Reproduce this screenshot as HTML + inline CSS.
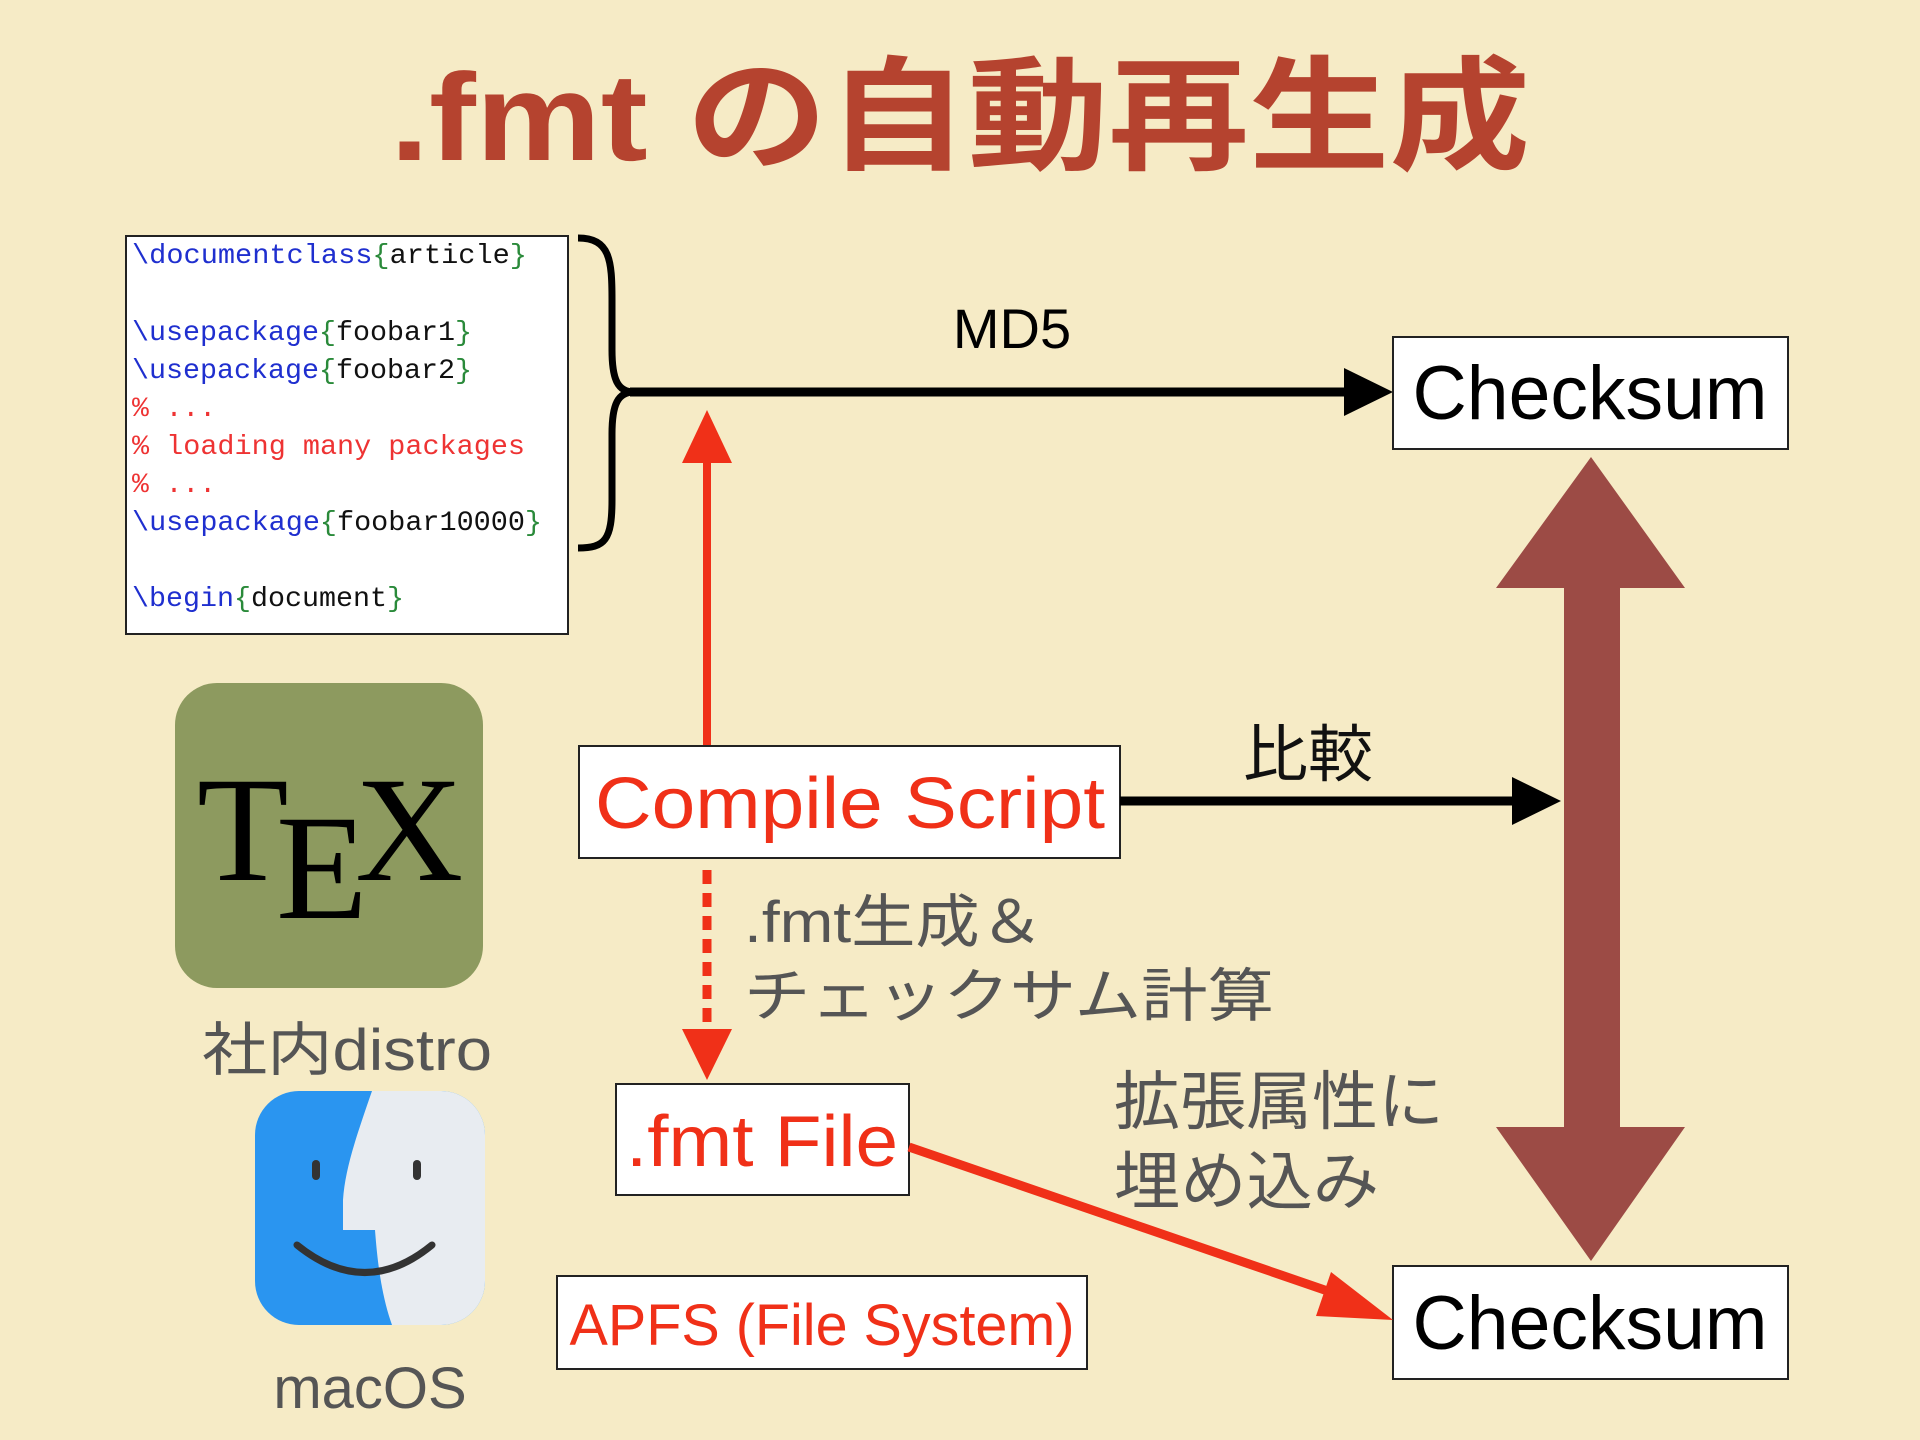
<!DOCTYPE html>
<html><head><meta charset="utf-8"><style>
html,body{margin:0;padding:0;background:#f6ebc6;}
svg{display:block}
.g{font-family:"Liberation Sans","Noto Sans CJK JP",sans-serif;}
.m{font-family:"Liberation Mono",monospace;font-size:28px;}
</style></head><body>
<svg width="1920" height="1440" viewBox="0 0 1920 1440" xmlns="http://www.w3.org/2000/svg">
<rect width="1920" height="1440" fill="#f6ebc6"/>
<text x="960" y="160" text-anchor="middle" class="g" font-size="124" font-weight="bold" fill="#b5432f" textLength="1140" lengthAdjust="spacingAndGlyphs">.fmt の自動再生成</text>

<rect x="126" y="236" width="442" height="398" fill="#fff" stroke="#222" stroke-width="2"/>
<g class="m">
<text x="132" y="263" textLength="395" lengthAdjust="spacingAndGlyphs"><tspan fill="#1f2fcf">\documentclass</tspan><tspan fill="#2a8a3a">{</tspan><tspan fill="#111">article</tspan><tspan fill="#2a8a3a">}</tspan></text>
<text x="132" y="340" textLength="340" lengthAdjust="spacingAndGlyphs"><tspan fill="#1f2fcf">\usepackage</tspan><tspan fill="#2a8a3a">{</tspan><tspan fill="#111">foobar1</tspan><tspan fill="#2a8a3a">}</tspan></text>
<text x="132" y="378" textLength="340" lengthAdjust="spacingAndGlyphs"><tspan fill="#1f2fcf">\usepackage</tspan><tspan fill="#2a8a3a">{</tspan><tspan fill="#111">foobar2</tspan><tspan fill="#2a8a3a">}</tspan></text>
<text x="132" y="416" fill="#e33">% ...</text>
<text x="132" y="454" fill="#e33" textLength="393" lengthAdjust="spacingAndGlyphs">% loading many packages</text>
<text x="132" y="492" fill="#e33">% ...</text>
<text x="132" y="530" textLength="410" lengthAdjust="spacingAndGlyphs"><tspan fill="#1f2fcf">\usepackage</tspan><tspan fill="#2a8a3a">{</tspan><tspan fill="#111">foobar10000</tspan><tspan fill="#2a8a3a">}</tspan></text>
<text x="132" y="606" textLength="272" lengthAdjust="spacingAndGlyphs"><tspan fill="#1f2fcf">\begin</tspan><tspan fill="#2a8a3a">{</tspan><tspan fill="#111">document</tspan><tspan fill="#2a8a3a">}</tspan></text>
</g>
<path d="M578 238 C610 238 612 260 612 300 L612 350 C612 380 618 392 634 392 C618 392 612 404 612 434 L612 500 C612 540 605 548 578 548" fill="none" stroke="#000" stroke-width="7"/>

<text x="1012" y="348" text-anchor="middle" class="g" font-size="56" fill="#000">MD5</text>
<line x1="630" y1="392" x2="1348" y2="392" stroke="#000" stroke-width="9"/>
<polygon points="1344,368 1393,392 1344,416" fill="#000"/>
<rect x="1393" y="337" width="395" height="112" fill="#fff" stroke="#222" stroke-width="2"/>
<text x="1590" y="419" text-anchor="middle" class="g" font-size="76" fill="#000" textLength="355" lengthAdjust="spacingAndGlyphs">Checksum</text>
<rect x="1393" y="1266" width="395" height="113" fill="#fff" stroke="#222" stroke-width="2"/>
<text x="1590" y="1349" text-anchor="middle" class="g" font-size="76" fill="#000" textLength="355" lengthAdjust="spacingAndGlyphs">Checksum</text>

<polygon points="1591,457 1685,588 1620,588 1620,1127 1685,1127 1591,1261 1496,1127 1564,1127 1564,588 1496,588" fill="#9c4b45"/>

<line x1="707" y1="746" x2="707" y2="455" stroke="#f03018" stroke-width="8"/>
<polygon points="682,463 707,410 732,463" fill="#f03018"/>

<rect x="579" y="746" width="541" height="112" fill="#fff" stroke="#222" stroke-width="2"/>
<text x="850" y="828" text-anchor="middle" class="g" font-size="72" fill="#f03018" textLength="510" lengthAdjust="spacingAndGlyphs">Compile Script</text>

<text x="1308" y="776" text-anchor="middle" class="g" font-size="62" fill="#111" textLength="130" lengthAdjust="spacingAndGlyphs">比較</text>
<line x1="1120" y1="801" x2="1516" y2="801" stroke="#000" stroke-width="9"/>
<polygon points="1512,777 1561,801 1512,825" fill="#000"/>

<line x1="707" y1="870" x2="707" y2="1032" stroke="#f03018" stroke-width="9" stroke-dasharray="14,9"/>
<polygon points="682,1029 707,1080 732,1029" fill="#f03018"/>
<text x="744" y="942" class="g" font-size="58" fill="#555" textLength="300" lengthAdjust="spacingAndGlyphs">.fmt生成＆</text>
<text x="744" y="1016" class="g" font-size="58" fill="#555" textLength="530" lengthAdjust="spacingAndGlyphs">チェックサム計算</text>

<rect x="616" y="1084" width="293" height="111" fill="#fff" stroke="#222" stroke-width="2"/>
<text x="762" y="1166" text-anchor="middle" class="g" font-size="72" fill="#f03018" textLength="272" lengthAdjust="spacingAndGlyphs">.fmt File</text>

<text x="1114" y="1124" class="g" font-size="64" fill="#555" textLength="330" lengthAdjust="spacingAndGlyphs">拡張属性に</text>
<text x="1114" y="1204" class="g" font-size="64" fill="#555" textLength="265" lengthAdjust="spacingAndGlyphs">埋め込み</text>

<line x1="909" y1="1147" x2="1345" y2="1297" stroke="#f03018" stroke-width="9"/>
<polygon points="1331,1272 1393,1320 1316,1316" fill="#f03018"/>

<rect x="557" y="1276" width="530" height="93" fill="#fff" stroke="#222" stroke-width="2"/>
<text x="822" y="1345" text-anchor="middle" class="g" font-size="58" fill="#f03018" textLength="505" lengthAdjust="spacingAndGlyphs">APFS (File System)</text>

<rect x="175" y="683" width="308" height="305" rx="42" fill="#8d9a5f"/>
<text x="197" y="880" font-family="Liberation Serif,serif" font-size="150" fill="#000">T</text>
<text x="276" y="918" font-family="Liberation Serif,serif" font-size="150" fill="#000">E</text>
<text x="355" y="880" font-family="Liberation Serif,serif" font-size="150" fill="#000">X</text>
<text x="202" y="1070" class="g" font-size="58" fill="#555" textLength="290" lengthAdjust="spacingAndGlyphs">社内distro</text>

<defs><clipPath id="fc"><rect x="255" y="1091" width="230" height="234" rx="44"/></clipPath></defs>
<g clip-path="url(#fc)">
<rect x="255" y="1091" width="230" height="234" fill="#2a95f0"/>
<path d="M372 1091 C355 1140 345 1170 343 1200 L343 1230 L375 1230 C378 1270 383 1300 392 1325 L485 1325 L485 1091 Z" fill="#e8ecf1"/>
</g>
<rect x="312" y="1160" width="8" height="20" rx="4" fill="#333"/>
<rect x="413" y="1160" width="8" height="20" rx="4" fill="#333"/>
<path d="M297 1245 Q365 1300 432 1245" fill="none" stroke="#333" stroke-width="7" stroke-linecap="round"/>
<text x="370" y="1408" text-anchor="middle" class="g" font-size="58" fill="#555">macOS</text>
</svg>
</body></html>
